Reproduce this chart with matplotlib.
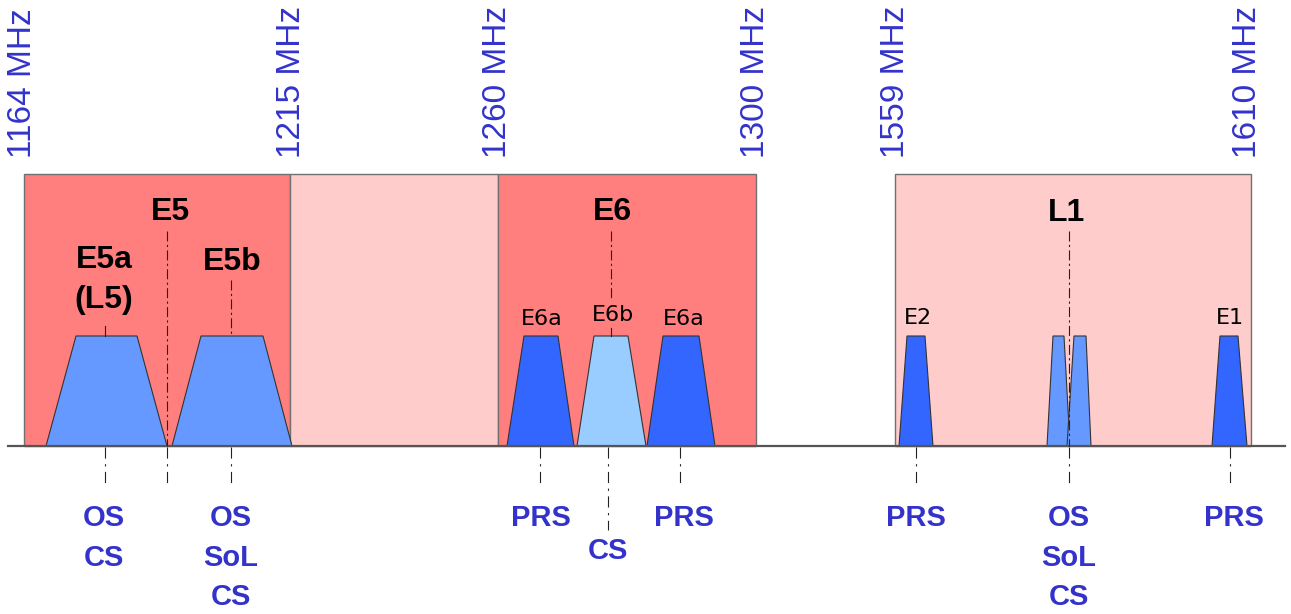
import numpy as np
import matplotlib.pyplot as plt
from matplotlib.patches import Rectangle, Polygon

W, H = 1291, 614

# frequency band boxes (diagram units = pixels of the schematic)
box_left = [24, 290, 498, 895]
box_right = [290, 498, 756, 1251]
box_color = ['#FF7F7F', '#FFCCCC', '#FF7F7F', '#FFCCCC']
box_top = 174
base_y = 446

freq_labels = ['1164 MHz', '1215 MHz', '1260 MHz', '1300 MHz', '1559 MHz', '1610 MHz']
freq_x = [23, 291, 498, 755, 895, 1248]

# signal trapezoids: bottom-left, top-left, top-right, bottom-right
sig_bl = [46, 172, 507, 577, 647, 899, 1047, 1067, 1212]
sig_tl = [76, 201, 524, 594, 663, 907, 1053, 1074, 1220]
sig_tr = [137, 263, 558, 628, 699, 925, 1064, 1086, 1238]
sig_br = [167, 292, 574, 646, 715, 933, 1070, 1091, 1247]
sig_top = 336
sig_color = ['#6699FF', '#6699FF', '#3366FF', '#99CCFF', '#3366FF',
             '#3366FF', '#6699FF', '#6699FF', '#3366FF']

# band names (bold)
band_names = ['E5', 'E6', 'L1', 'E5a', '(L5)', 'E5b']
band_x = [170, 612, 1066, 104, 104, 232]
band_y = [212, 212, 213, 260, 300, 262]

# signal names (regular)
sig_names = ['E6a', 'E6b', 'E6a', 'E2', 'E1']
sig_name_x = [542, 613, 684, 918, 1230]
sig_name_y = [319, 315, 319, 318, 318]

# guide lines above baseline: x, y start, y end, dashed?
guide_x = [167, 105, 231, 611, 611, 1069]
guide_y0 = [231, 326, 280, 231, 328, 231]
guide_y1 = [446, 336, 336, 300, 336, 446]
guide_dash = [True, False, True, True, False, True]

# guide lines below baseline
low_x = [105, 167, 231, 540, 608, 680, 916, 1069, 1230]
low_y1 = [484, 484, 484, 484, 530, 484, 484, 484, 484]

# services
svc_x = [104, 231, 541, 608, 684, 916, 1069, 1234]
svc_text = [['OS', 'CS'], ['OS', 'SoL', 'CS'], ['PRS'], ['CS'], ['PRS'],
            ['PRS'], ['OS', 'SoL', 'CS'], ['PRS']]
svc_y0 = [518, 518, 518, 551, 518, 518, 518, 518]

blue_txt = '#3333CC'
dashdot = (0, (9, 3, 2, 3))

fig = plt.figure(figsize=(12.91, 6.14), dpi=100)
ax = fig.add_axes([0, 0, 1, 1])
ax.set_xlim(0, W)
ax.set_ylim(H, 0)
ax.axis('off')

for l, r, c in zip(box_left, box_right, box_color):
    ax.add_patch(Rectangle((l, box_top), r - l, base_y - box_top,
                           facecolor=c, edgecolor='#707070', lw=1, zorder=1))

for i in range(len(sig_bl)):
    pts = [(sig_bl[i], base_y), (sig_tl[i], sig_top),
           (sig_tr[i], sig_top), (sig_br[i], base_y)]
    ax.add_patch(Polygon(pts, closed=True, facecolor=sig_color[i],
                         edgecolor='#333333', lw=0.8, zorder=2))

ax.plot([8, 1285], [base_y, base_y], color='#555555', lw=1.6, zorder=3)

for x, y0, y1, d in zip(guide_x, guide_y0, guide_y1, guide_dash):
    ls = dashdot if d else '-'
    ax.plot([x, x], [y0, y1], color='#222222', lw=0.8, linestyle=ls, zorder=4)

for x, y1 in zip(low_x, low_y1):
    ax.plot([x, x], [base_y + 1, y1], color='#222222', lw=0.8,
            linestyle=(0, (10, 5, 2, 5)), zorder=4)

for lab, x in zip(freq_labels, freq_x):
    ax.text(x, 158, lab, rotation=90, ha='center', va='bottom',
            fontsize=24, color=blue_txt, family='Liberation Sans')

for lab, x, y in zip(band_names, band_x, band_y):
    ax.text(x, y, lab, ha='center', va='center', fontsize=23,
            fontweight='bold', color='black', family='Liberation Sans', zorder=5)

for lab, x, y in zip(sig_names, sig_name_x, sig_name_y):
    ax.text(x, y, lab, ha='center', va='center', fontsize=16,
            color='black', family='DejaVu Sans', zorder=5)

for x, lines, y0 in zip(svc_x, svc_text, svc_y0):
    for k, s in enumerate(lines):
        ax.text(x, y0 + 39.5 * k, s, ha='center', va='center', fontsize=21,
                fontweight='bold', color=blue_txt, family='Liberation Sans')

fig.savefig('out.png', dpi=100)
